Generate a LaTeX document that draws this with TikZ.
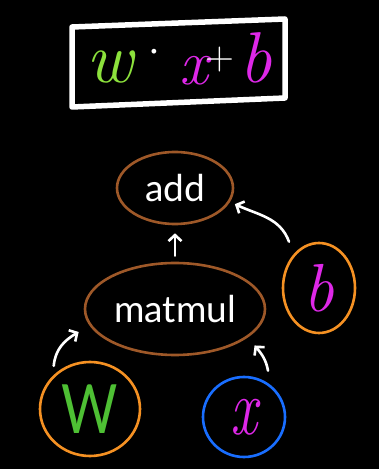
\documentclass[tikz,border=0pt]{standalone}
\usepackage{fontspec}
\newfontfamily\hand{Lato}
\usetikzlibrary{arrows.meta,positioning,shapes.geometric}
\definecolor{opbrown}{RGB}{158,88,40}
\definecolor{leaforange}{RGB}{245,145,35}
\definecolor{leafblue}{RGB}{25,110,255}
\definecolor{wgreen}{RGB}{140,225,60}
\definecolor{Wgreen}{RGB}{78,192,52}
\definecolor{bmag}{RGB}{222,40,232}

\begin{document}
\begin{tikzpicture}[x=1pt,y=1pt,
  op/.style={ellipse,draw=opbrown,line width=2.6pt,inner sep=0pt,text=white,font=\hand\fontsize{37}{37}\selectfont},
  leaf/.style={ellipse,line width=2.6pt,inner sep=0pt},
  sym/.style={inner sep=0pt,font=\itshape\fontsize{72}{72}\selectfont},
  a/.style={-{Straight Barb[length=6pt,width=13pt]},line width=2.6pt,draw=white,line cap=round,line join=round}]
  \fill[black] (0,0) rectangle (379,469);
  % the formula in its box
  \draw[white,line width=5.5pt,line join=round] (72,442) -- (285,450) -- (285,371) -- (72,362) -- cycle;
  \node[sym,anchor=base,text=wgreen] (w) at (110,386) {w};
  \node[sym,anchor=base,text=bmag,font=\itshape\fontsize{64}{64}\selectfont] (xx) at (171,384) {\raisebox{13pt}{\color{white}\upshape\fontsize{58}{58}\selectfont ·}\hspace{4pt}x};
  \node[inner sep=0pt,font=\fontsize{40}{40}\selectfont,text=white] (plus) at (220,409) {+};
  \node[sym,anchor=base,text=bmag] (bb) at (256,386) {b};
  % graph
  \node[op,minimum width=116pt,minimum height=72pt] (add) at (175,281) {add};
  \node[op,minimum width=180pt,minimum height=92pt] (matmul) at (175,160) {matmul};
  \node[leaf,draw=leaforange,minimum width=72pt,minimum height=90pt,text=bmag,font=\itshape\fontsize{68}{68}\selectfont] (b) at (319,181) {b};
  \node[leaf,draw=leaforange,minimum width=100pt,minimum height=94pt,text=Wgreen,font=\hand\fontsize{68}{68}\selectfont] (W) at (90,60) {\scalebox{.8}[1]{W}};
  \node[leaf,draw=leafblue,minimum width=82pt,minimum height=80pt,text=bmag,font=\itshape\fontsize{80}{80}\selectfont] (x) at (244,52) {\scalebox{.75}[1]{x}};
  \draw[a,shorten <=6pt,shorten >=8pt] (matmul.north) -- (add.south);
  \draw[a] ([xshift=-30pt]b.north) to[out=110,in=-25] ([xshift=10pt,yshift=4pt]add.-22);
  \draw[a] ([yshift=9pt]W.north west) to[out=85,in=210] ([xshift=-5pt,yshift=-23pt]matmul.west);
  \draw[a] ([xshift=24pt,yshift=5pt]x.north) to[out=100,in=-50] ([xshift=15pt,yshift=-3pt]matmul.south east);
\end{tikzpicture}
\end{document}
